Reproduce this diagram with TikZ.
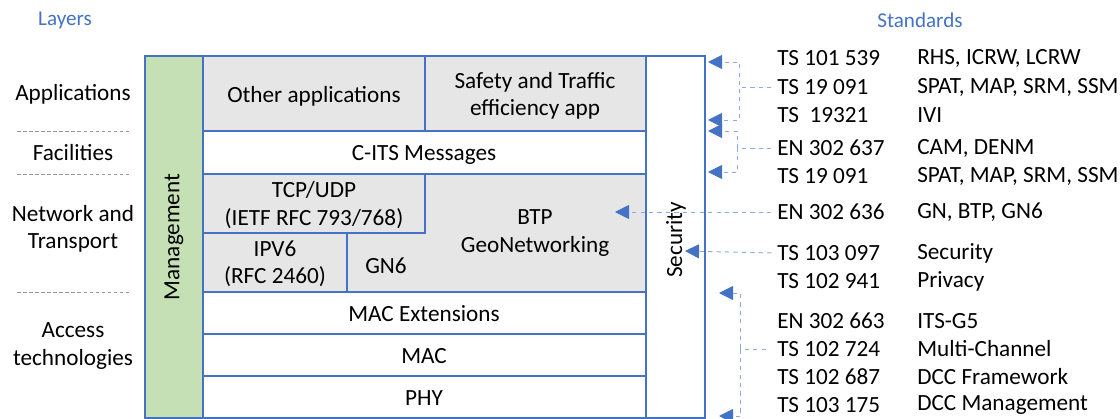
\documentclass[tikz,border=0pt]{standalone}
\usepackage{fontspec}
\setmainfont{Carlito}
\usetikzlibrary{calc, arrows.meta, positioning}

\begin{document}
\begin{tikzpicture}[x=0.025cm, y=-0.025cm,
    layerbox/.style={draw=borderColour, line width=1.1pt},
    boxtext/.style={align=center, font=\fontsize{16.5}{19.5}\selectfont},
    stdtext/.style={anchor=west, inner sep=0pt, font=\fontsize{16.5}{19.5}\selectfont},
    headtext/.style={text=titleColour, font=\fontsize{15}{18}\selectfont},
    sepline/.style={draw=gray!80, dash pattern=on 2.5pt off 1.8pt, line width=0.5pt},
    link/.style={draw=linkColour, dashed, line width=0.7pt},
    linkarrow/.style={link, -{Triangle[length=10pt, width=10pt, color=borderColour, fill=borderColour]}}]
    % Define colours
    \definecolor{borderColour}{HTML}{4472C4}
    \definecolor{titleColour}{HTML}{4472C4}
    \definecolor{greyColour}{HTML}{E6E6E6}
    \definecolor{mgmtColour}{HTML}{C5E0B4}
    \definecolor{linkColour}{HTML}{8FAADC}

    % Fix picture size
    \useasboundingbox (0,0) rectangle (1120,419);

    % Draw headers
    \node[headtext] (layers) at (65,20) {Layers};
    \node[headtext] (standards) at (920,20) {Standards};

    % Draw layer names and separators
    \node[boxtext] (appLayer) at (73,94) {Applications};
    \node[boxtext] (facLayer) at (73,153) {Facilities};
    \node[boxtext] (netLayer) at (73,229) {Network and\\Transport};
    \node[boxtext] (accLayer) at (73,346) {Access\\technologies};
    \foreach \y in {131,174,292}
        \draw[sepline] (17,\y) -- (130,\y);

    % Draw filled areas
    \fill[mgmtColour] (145,56) rectangle (203,418);
    \fill[greyColour] (203,56) rectangle (646,131);
    \fill[greyColour] (203,174) rectangle (646,292);

    % Draw stack boxes
    \draw[layerbox] (145,56) rectangle (203,418);
    \draw[layerbox] (646,56) rectangle (705,418);
    \draw[layerbox] (203,56) rectangle (425,131);
    \draw[layerbox] (425,56) rectangle (646,131);
    \draw[layerbox] (203,131) rectangle (646,174);
    \draw[layerbox] (203,174) rectangle (425,233);
    \draw[layerbox] (203,233) rectangle (347,292);
    \draw[layerbox] (203,174) rectangle (646,292);
    \foreach \y in {292,334,376}
        \draw[layerbox] (203,\y) rectangle (646,\y+42);
    \draw[layerbox] (203,376) rectangle (646,418);

    % Label stack boxes
    \node[boxtext, rotate=90] (mgmt) at (174,237) {Management};
    \node[boxtext, rotate=90] (sec) at (676,240) {Security};
    \node[boxtext] (otherApps) at (314,96) {Other applications};
    \node[boxtext] (safetyApps) at (535,96) {Safety and Traffic\\efficiency app};
    \node[boxtext] (citsMsg) at (424,155) {C-ITS Messages};
    \node[boxtext] (tcpUdp) at (314,205) {TCP/UDP\\(IETF RFC 793/768)};
    \node[boxtext] (ipv6) at (275,264) {IPV6\\(RFC 2460)};
    \node[boxtext] (gn6) at (386,266) {GN6};
    \node[boxtext] (btp) at (535,233) {BTP\\GeoNetworking};
    \node[boxtext] (macExt) at (424,314) {MAC Extensions};
    \node[boxtext] (mac) at (424,356) {MAC};
    \node[boxtext] (phy) at (424,398) {PHY};

    % Draw standards
    \def\stdX{777}
    \def\descX{917}
    \foreach \name/\y/\num/\desc in {
        std1/58/{TS 101 539}/{RHS, ICRW, LCRW},
        std2/87/{TS 19 091}/{SPAT, MAP, SRM, SSM},
        std3/115/{TS\ \ 19321}/{IVI},
        std4/148/{EN 302 637}/{CAM, DENM},
        std5/176/{TS 19 091}/{SPAT, MAP, SRM, SSM},
        std6/212/{EN 302 636}/{GN, BTP, GN6},
        std7/253/{TS 103 097}/{Security},
        std8/281/{TS 102 941}/{Privacy},
        std9/321/{EN 302 663}/{ITS-G5},
        std10/349/{TS 102 724}/{Multi-Channel},
        std11/377/{TS 102 687}/{DCC Framework},
        std12/405/{TS 103 175}/{DCC Management}} {
        \node[stdtext] (\name) at (\stdX,\y) {\num};
        \node[stdtext] (\name desc) at (\descX,\y) {\desc};
    }

    % Define arrow targets
    \coordinate (appTop) at (708,62);
    \coordinate (appBot) at (708,120);
    \coordinate (facTop) at (708,131);
    \coordinate (facBot) at (708,172);
    \coordinate (btpIn) at (615,212);
    \coordinate (secIn) at (685,251);
    \coordinate (accTop) at (719,293);
    \coordinate (accBot) at (719,416);

    % Draw links
    \draw[linkarrow] ([xshift=-4pt]std2.west) -- ++(-32,0) |- (appTop);
    \draw[linkarrow] ([xshift=-4pt]std2.west) -- ++(-32,0) |- (appBot);
    \draw[linkarrow] ([xshift=-4pt]std4.west) -- ++(-34,0) |- (facTop);
    \draw[linkarrow] ([xshift=-4pt]std4.west) -- ++(-34,0) |- (facBot);
    \draw[linkarrow] ([xshift=-4pt]std6.west) -- (btpIn);
    \draw[linkarrow] ([xshift=-4pt]std7.west) -- (secIn);
    \draw[linkarrow] ([xshift=-8pt]std10.west) -- ++(-25,0) |- (accTop);
    \draw[linkarrow] ([xshift=-8pt]std10.west) -- ++(-25,0) |- (accBot);
\end{tikzpicture}
\end{document}
